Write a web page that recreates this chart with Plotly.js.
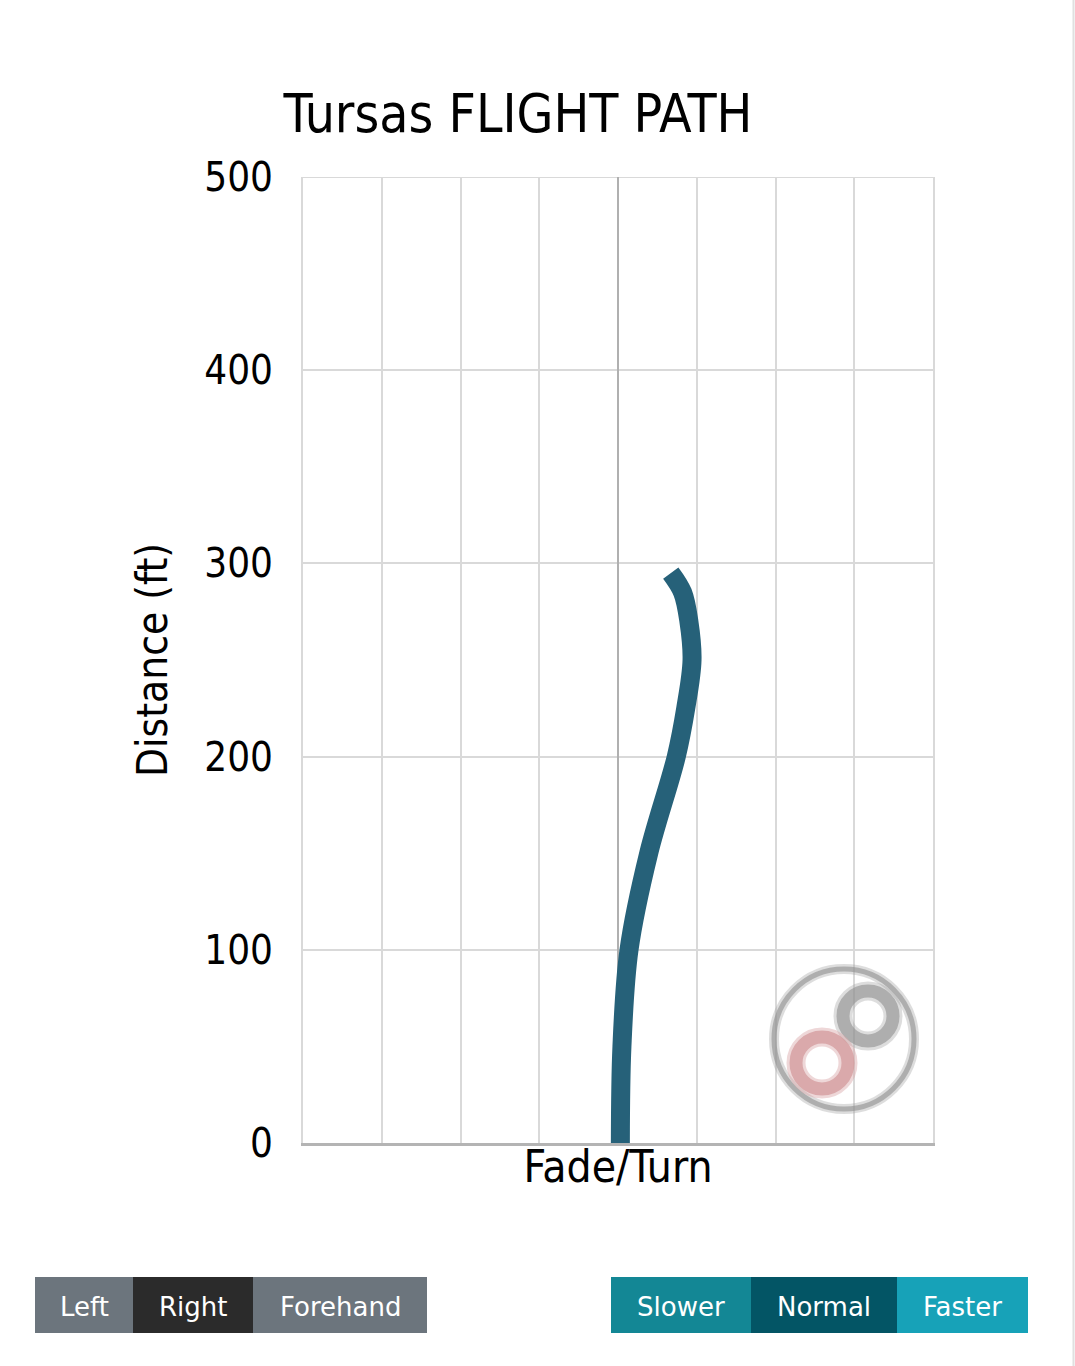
<!DOCTYPE html>
<html>
<head>
<meta charset="utf-8">
<script src="https://cdn.plot.ly/plotly-3.0.1.min.js"></script>
<style>
html,body{margin:0;padding:0;background:#fff;}
#chart{width:1075px;height:1366px;}
</style>
</head>
<body>
<div id="chart"></div>
<script>
// Flight path data (x = fade/turn, y = distance in ft)
var pathDistance = [0, 50, 100, 150, 200, 225, 250, 270, 285, 295];
var pathFade = [0.03, 0.05, 0.14, 0.39, 0.74, 0.86, 0.94, 0.90, 0.82, 0.67];
var yTicks = [0, 100, 200, 300, 400, 500];
var handButtons = ["Left", "Right", "Forehand"];
var speedButtons = ["Slower", "Normal", "Faster"];

var W = 1075, H = 1366, L = 303, R = 142, T = 177, B = 223;
var pw = W - L - R, ph = H - T - B;
function px(x){ return (x - L) / pw; }
function py(y){ return (H - B - y) / ph; }

var shapes = [];
var annotations = [];

// top border of the plot area (grid line at 500)
shapes.push({type:"line", xref:"paper", yref:"y", x0:0, x1:1, y0:500, y1:500,
  line:{color:"#d9d9d9", width:2}, layer:"below"});

// buttons
var handEdges = [35, 133, 253, 427];
var handColors = ["#6c757d", "#2b2b2b", "#6c757d"];
var speedEdges = [611, 751, 897, 1028];
var speedColors = ["#138795", "#035565", "#17a2b8"];
function addButtons(labels, edges, colors){
  for (var i = 0; i < labels.length; i++){
    shapes.push({type:"rect", xref:"paper", yref:"paper", layer:"above",
      x0:px(edges[i]), x1:px(edges[i+1]), y0:py(1333), y1:py(1277),
      fillcolor:colors[i], line:{width:0}});
    annotations.push({xref:"paper", yref:"paper", x:px((edges[i]+edges[i+1])/2), y:py(1307),
      xanchor:"center", yanchor:"middle", showarrow:false, text:labels[i],
      font:{family:"DejaVu Sans", size:26, color:"#ffffff"}});
  }
}
addButtons(handButtons, handEdges, handColors);
addButtons(speedButtons, speedEdges, speedColors);

// right page border
shapes.push({type:"line", xref:"paper", yref:"paper", x0:px(1073.5), x1:px(1073.5), y0:py(0), y1:py(1366),
  line:{color:"#e0e0e0", width:2}});

// watermark logo
function ring(cx, cy, r, color, w, op){
  shapes.push({type:"circle", xref:"paper", yref:"paper", layer:"above",
    x0:px(cx-r), x1:px(cx+r), y0:py(cy+r), y1:py(cy-r),
    line:{color:color, width:w}, opacity:op});
}
ring(844, 1039, 70, "#a0a0a0", 10, 0.35);
ring(844, 1039, 70, "#909090", 5, 0.6);
ring(868, 1016, 25, "#a0a0a0", 19, 0.35);
ring(868, 1016, 25, "#8f8f8f", 13, 0.6);
ring(822, 1063, 26, "#dba7a9", 19, 0.45);
ring(822, 1063, 26, "#d49a9c", 13, 0.75);

var trace = {
  x: pathFade, y: pathDistance, type:"scatter", mode:"lines",
  line:{color:"#266179", width:19, shape:"spline", smoothing:1},
  hoverinfo:"skip"
};

var layout = {
  width:W, height:H,
  margin:{l:L, r:R, t:T, b:B, pad:0},
  paper_bgcolor:"#ffffff", plot_bgcolor:"#ffffff",
  showlegend:false,
  font:{family:"DejaVu Sans Condensed", color:"#000"},
  title:{text:"Tursas FLIGHT PATH", xref:"container", yref:"container", x:518/W, xanchor:"center",
    y:1-113/H, yanchor:"middle", font:{family:"DejaVu Sans Condensed", size:53, color:"#000"}},
  xaxis:{range:[-4,4], dtick:1, tick0:0, showticklabels:false, ticks:"",
    showgrid:true, gridcolor:"#d9d9d9", gridwidth:2,
    zeroline:true, zerolinecolor:"#b0b0b0", zerolinewidth:2,
    showline:true, linecolor:"#b4b4b4", linewidth:3, fixedrange:true,
    title:{text:"Fade/Turn", standoff:7, font:{family:"DejaVu Sans Condensed", size:44, color:"#000"}},
    automargin:false},
  yaxis:{range:[0,500], tickvals:yTicks, ticktext:yTicks.map(String),
    ticks:"outside", ticklen:20, tickcolor:"rgba(0,0,0,0)",
    tickfont:{family:"DejaVu Sans Condensed", size:40, color:"#000"},
    showgrid:true, gridcolor:"#d9d9d9", gridwidth:2, zeroline:false,
    showline:true, linecolor:"#d9d9d9", linewidth:2, mirror:true, fixedrange:true,
    title:{text:"Distance (ft)", standoff:24, font:{family:"DejaVu Sans Condensed", size:42, color:"#000"}},
    automargin:false},
  shapes:shapes,
  annotations:annotations
};

Plotly.newPlot("chart", [trace], layout, {displayModeBar:false, staticPlot:true});
</script>
</body>
</html>
